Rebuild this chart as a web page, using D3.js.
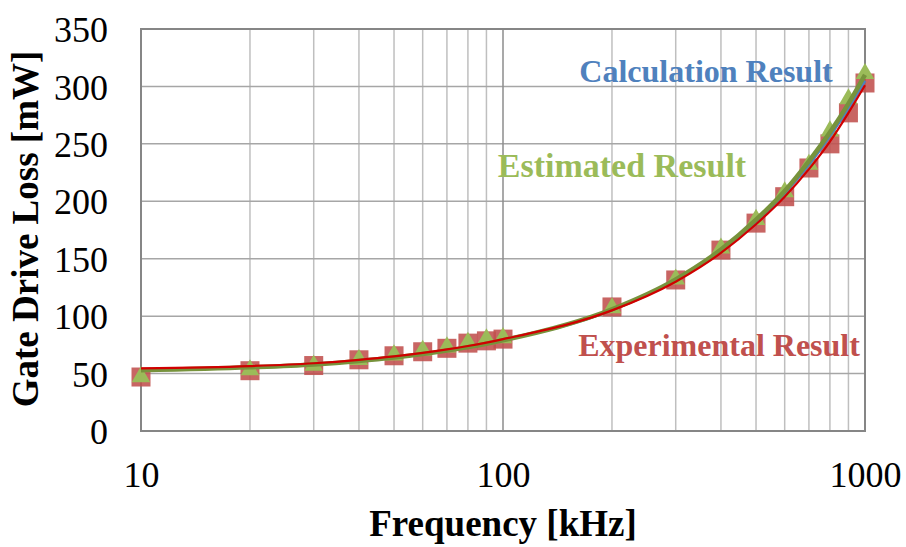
<!DOCTYPE html>
<html>
<head>
<meta charset="utf-8">
<script src="https://cdn.jsdelivr.net/npm/d3@7"></script>
<style>
  body { margin: 0; background: #fff; }
  svg { display: block; font-family: "Liberation Serif", "Times New Roman", serif; }
</style>
</head>
<body>
<div id="chart"></div>
<script>
// Frequency points [kHz]
const freqs = [10, 20, 30, 40, 50, 60, 70, 80, 90, 100, 200, 300, 400, 500, 600, 700, 800, 900, 1000];

// Markers
const experimental = [47, 52.5, 57, 62, 65.5, 69, 72, 76.5, 78.5, 80, 108, 131.5, 157.5, 181, 204, 229, 250, 277, 303];
const estimated    = [48, 54, 58, 63, 67, 71, 74, 78, 81, 82, 108, 133, 160, 185, 209, 233, 262, 290, 312];

// Fitted lines
const calcLine  = [53, 55.5, 58, 61, 64, 67, 70, 73, 76, 79, 105.5, 131.5, 157, 182, 207, 232, 257, 281, 305];
const estLine   = [53, 55.5, 58, 61, 64, 67, 70, 73, 76, 79, 106, 132, 158, 184, 209, 235, 260, 285, 310];
const expLine   = [54.5, 56.5, 59, 62, 65, 68, 71, 74, 77, 80, 105, 130, 155, 180, 204, 228, 252, 277, 301];

const yTicks = [0, 50, 100, 150, 200, 250, 300, 350];
const xTicks = [10, 100, 1000];

const W = 906, H = 547;
const margin = { top: 29, right: 41, bottom: 116, left: 141 };
const width = W - margin.left - margin.right;
const height = H - margin.top - margin.bottom;

const svg = d3.select("#chart").append("svg")
    .attr("width", W).attr("height", H);

const g = svg.append("g").attr("transform", `translate(${margin.left},${margin.top})`);

const x = d3.scaleLog().domain([10, 1000]).range([0, width]);
const y = d3.scaleLinear().domain([0, 350]).range([height, 0]);

// minor vertical gridlines
const minor = [];
for (let d = 10; d < 1000; d *= 10) {
  for (let k = 2; k <= 9; k++) minor.push(d * k);
}
g.selectAll(".vminor").data(minor).join("line")
    .attr("x1", d => x(d)).attr("x2", d => x(d))
    .attr("y1", 0).attr("y2", height)
    .attr("stroke", "#bfbfbf").attr("stroke-width", 1.5);

// horizontal gridlines
g.selectAll(".hgrid").data(yTicks).join("line")
    .attr("x1", 0).attr("x2", width)
    .attr("y1", d => y(d)).attr("y2", d => y(d))
    .attr("stroke", "#a6a6a6").attr("stroke-width", 1.5);

// major vertical gridlines
g.selectAll(".vmajor").data(xTicks).join("line")
    .attr("x1", d => x(d)).attr("x2", d => x(d))
    .attr("y1", 0).attr("y2", height)
    .attr("stroke", "#8c8c8c").attr("stroke-width", 1.5);

// plot border
g.append("rect")
    .attr("x", 0).attr("y", 0).attr("width", width).attr("height", height)
    .attr("fill", "none").attr("stroke", "#868686").attr("stroke-width", 2);

// axes (labels only)
const yAxis = g.append("g")
    .call(d3.axisLeft(y).tickValues(yTicks).tickSize(0).tickPadding(33));
yAxis.select(".domain").remove();
yAxis.selectAll("text")
    .style("font-family", "Liberation Serif, serif")
    .style("font-size", "36px").attr("fill", "#000").attr("dy", "0.35em");

const xAxis = g.append("g").attr("transform", `translate(0,${height})`)
    .call(d3.axisBottom(x).tickValues(xTicks).tickFormat(d3.format("d")).tickSize(0).tickPadding(30));
xAxis.select(".domain").remove();
xAxis.selectAll("text")
    .style("font-family", "Liberation Serif, serif")
    .style("font-size", "36px").attr("fill", "#000");

// markers: squares then triangles
const pts = (vals) => freqs.map((f, i) => ({ f, v: vals[i] }));

g.selectAll(".sq").data(pts(experimental)).join("rect")
    .attr("x", d => x(d.f) - 9.5).attr("y", d => y(d.v) - 9.5)
    .attr("width", 19).attr("height", 19)
    .attr("fill", "#c0504d").attr("fill-opacity", 0.88);

const tri = d3.symbol().type(d3.symbolTriangle).size(150);
g.selectAll(".tri").data(pts(estimated)).join("path")
    .attr("d", tri)
    .attr("transform", d => `translate(${x(d.f)},${y(d.v) + 1})`)
    .attr("fill", "#9bbb59");

// lines
const line = d3.line().x(d => x(d.f)).y(d => y(d.v)).curve(d3.curveMonotoneX);

g.append("path").datum(pts(calcLine)).attr("d", line)
    .attr("fill", "none").attr("stroke", "#4f81bd").attr("stroke-width", 3);
g.append("path").datum(pts(estLine)).attr("d", line)
    .attr("fill", "none").attr("stroke", "#77933c").attr("stroke-width", 4.5);
g.append("path").datum(pts(expLine)).attr("d", line)
    .attr("fill", "none").attr("stroke", "#d00000").attr("stroke-width", 2.2);

// series labels
svg.append("text").attr("x", 706).attr("y", 82).attr("text-anchor", "middle")
    .style("font-size", "32px").style("font-weight", "bold").attr("fill", "#4f81bd")
    .text("Calculation Result");
svg.append("text").attr("x", 622).attr("y", 177).attr("text-anchor", "middle")
    .style("font-size", "34px").style("font-weight", "bold").attr("fill", "#9bbb59")
    .text("Estimated Result");
svg.append("text").attr("x", 719).attr("y", 356).attr("text-anchor", "middle")
    .style("font-size", "32px").style("font-weight", "bold").attr("fill", "#c0504d")
    .text("Experimental Result");

// axis titles
svg.append("text").attr("x", 503).attr("y", 536).attr("text-anchor", "middle")
    .style("font-size", "37px").style("font-weight", "bold").attr("fill", "#000")
    .text("Frequency [kHz]");
svg.append("text")
    .attr("transform", `translate(38,229) rotate(-90)`)
    .attr("text-anchor", "middle")
    .style("font-size", "37px").style("font-weight", "bold").attr("fill", "#000")
    .text("Gate Drive Loss [mW]");
</script>
</body>
</html>
